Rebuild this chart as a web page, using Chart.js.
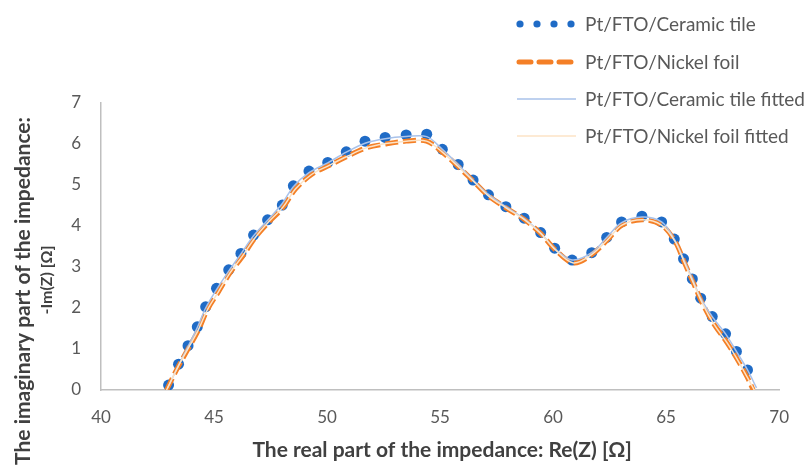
<!DOCTYPE html>
<html>
<head>
<meta charset="utf-8">
<script src="https://cdn.jsdelivr.net/npm/chart.js@4/dist/chart.umd.min.js"></script>
<style>
  html, body { margin: 0; padding: 0; background: #ffffff; }
  #wrap { position: relative; width: 806px; height: 475px; }
</style>
</head>
<body>
<div id="wrap"><canvas id="ctx" width="806" height="475"></canvas></div>
<script>
// data
const ceramicX = [42.99, 43.43, 43.85, 44.26, 44.63, 45.11, 45.65, 46.19, 46.75, 47.37, 48.02, 48.51, 49.2, 50.03, 50.85, 51.68, 52.57, 53.5, 54.41, 55.1, 55.8, 56.46, 57.14, 57.91, 58.72, 59.45, 60.07, 60.84, 61.71, 62.37, 63.03, 63.93, 64.8, 65.36, 65.77, 66.16, 66.53, 67.04, 67.63, 68.11, 68.6];
const ceramicY = [0.12, 0.63, 1.08, 1.54, 2.03, 2.48, 2.93, 3.33, 3.78, 4.15, 4.51, 4.98, 5.34, 5.55, 5.81, 6.07, 6.16, 6.22, 6.24, 5.87, 5.5, 5.12, 4.76, 4.47, 4.19, 3.84, 3.46, 3.17, 3.35, 3.72, 4.1, 4.24, 4.1, 3.68, 3.2, 2.71, 2.24, 1.79, 1.37, 0.94, 0.49];

const nickelX = [42.9, 43.4, 43.85, 44.3, 44.7, 45.2, 45.7, 46.25, 46.8, 47.4, 48.05, 48.6, 49.3, 50.1, 50.9, 51.7, 52.6, 53.5, 54.4, 55.1, 55.8, 56.5, 57.15, 57.9, 58.7, 59.45, 60.1, 60.9, 61.7, 62.4, 63.05, 63.95, 64.8, 65.4, 65.8, 66.2, 66.6, 67.1, 67.7, 68.2, 68.6, 68.85];
const nickelY = [0, 0.55, 1.0, 1.45, 1.95, 2.4, 2.85, 3.25, 3.7, 4.08, 4.45, 4.9, 5.25, 5.48, 5.7, 5.9, 6.0, 6.07, 6.07, 5.8, 5.45, 5.08, 4.73, 4.45, 4.17, 3.82, 3.42, 3.1, 3.3, 3.66, 4.02, 4.15, 4.02, 3.62, 3.12, 2.62, 2.12, 1.62, 1.15, 0.7, 0.3, 0];

const ceramicFitX = [42.95, 43.43, 43.85, 44.26, 44.63, 45.11, 45.65, 46.19, 46.75, 47.37, 48.02, 48.51, 49.2, 50.03, 50.85, 51.68, 52.57, 53.5, 54.41, 55.1, 55.8, 56.46, 57.14, 57.91, 58.72, 59.45, 60.07, 60.84, 61.71, 62.37, 63.03, 63.93, 64.8, 65.36, 65.77, 66.16, 66.53, 67.04, 67.63, 68.11, 68.6, 69.0];
const ceramicFitY = [0.05, 0.6, 1.06, 1.52, 2.0, 2.45, 2.9, 3.32, 3.76, 4.14, 4.55, 4.96, 5.3, 5.54, 5.8, 6.02, 6.13, 6.18, 6.18, 5.87, 5.5, 5.12, 4.77, 4.47, 4.18, 3.83, 3.45, 3.17, 3.35, 3.72, 4.08, 4.22, 4.1, 3.68, 3.2, 2.71, 2.24, 1.79, 1.37, 0.94, 0.49, 0.05];

const nickelFitX = [42.9, 43.4, 43.85, 44.3, 44.7, 45.2, 45.7, 46.25, 46.8, 47.4, 48.05, 48.6, 49.3, 50.1, 50.9, 51.7, 52.6, 53.5, 54.4, 55.1, 55.8, 56.5, 57.15, 57.9, 58.7, 59.45, 60.1, 60.9, 61.7, 62.4, 63.05, 63.95, 64.8, 65.4, 65.8, 66.2, 66.6, 67.1, 67.7, 68.2, 68.6, 68.9];
const nickelFitY = [0, 0.56, 1.01, 1.46, 1.95, 2.4, 2.85, 3.26, 3.7, 4.09, 4.46, 4.9, 5.25, 5.48, 5.7, 5.9, 6.01, 6.07, 6.07, 5.8, 5.45, 5.08, 4.73, 4.45, 4.17, 3.82, 3.42, 3.1, 3.3, 3.66, 4.02, 4.15, 4.02, 3.62, 3.12, 2.62, 2.12, 1.62, 1.15, 0.7, 0.3, 0];

const seriesNames = ["Pt/FTO/Ceramic tile", "Pt/FTO/Nickel foil", "Pt/FTO/Ceramic tile fitted", "Pt/FTO/Nickel foil fitted"];
const xTicks = [40, 45, 50, 55, 60, 65, 70];
const yTicks = [0, 1, 2, 3, 4, 5, 6, 7];
const xTitle = "The real part of the impedance: Re(Z) [Ω]";
const yTitle1 = "The imaginary part of the impedance:";
const yTitle2 = "-Im(Z) [Ω]";

const pts = (xs, ys) => xs.map((x, i) => ({ x: x, y: ys[i] }));

const blue = "#1f6bc6";
const orange = "#f47f26";
const fitBlue = "#a9c2ea";
const fitOrange = "#fce3c6";
const textGray = "#595959";
const titleGray = "#404040";
const fontFam = "Lato, 'Open Sans', sans-serif";

// legend + axis titles drawn by hand, like the excel layout
const chartDecor = {
    id: "chartDecor",
    afterDraw(chart) {
        const c = chart.ctx;
        const a = chart.chartArea;
        c.save();
        // x title
        c.fillStyle = titleGray;
        c.font = "bold 21px " + fontFam;
        c.textAlign = "center";
        c.textBaseline = "middle";
        c.fillText(xTitle, (a.left + a.right) / 2 + 2, 450);
        // y title, two lines
        c.save();
        c.translate(23, 291);
        c.rotate(-Math.PI / 2);
        c.fillText(yTitle1, 0, 0);
        c.restore();
        c.save();
        c.translate(47, 280);
        c.rotate(-Math.PI / 2);
        c.font = "bold 16px " + fontFam;
        c.fillText(yTitle2, 0, 0);
        c.restore();

        // legend
        const lx = 517, lw = 56, tx = 585;
        const rows = [24, 62, 99, 136];
        c.font = "19px " + fontFam;
        c.textAlign = "left";
        rows.forEach((y, i) => {
            c.fillStyle = textGray;
            c.fillText(seriesNames[i], tx, y + 1);
        });
        // dots
        c.fillStyle = blue;
        for (let k = 0; k < 4; k++) {
            c.beginPath();
            c.arc(lx + 3 + k * 17, rows[0], 3.6, 0, Math.PI * 2);
            c.fill();
        }
        // dashed
        c.strokeStyle = orange;
        c.lineWidth = 5;
        c.lineCap = "round";
        c.setLineDash([12, 8]);
        c.beginPath();
        c.moveTo(lx + 2, rows[1]);
        c.lineTo(lx + lw, rows[1]);
        c.stroke();
        c.setLineDash([]);
        c.lineCap = "butt";
        c.lineWidth = 1.5;
        c.strokeStyle = fitBlue;
        c.beginPath();
        c.moveTo(lx, rows[2]);
        c.lineTo(lx + lw + 3, rows[2]);
        c.stroke();
        c.strokeStyle = fitOrange;
        c.beginPath();
        c.moveTo(lx, rows[3]);
        c.lineTo(lx + lw + 3, rows[3]);
        c.stroke();
        c.restore();
    }
};

const config = {
    type: "scatter",
    data: {
        datasets: [
            {
                label: seriesNames[0],
                data: pts(ceramicX, ceramicY),
                showLine: false,
                pointRadius: 5.5,
                pointBackgroundColor: blue,
                pointBorderWidth: 0,
                order: 4
            },
            {
                label: seriesNames[1],
                data: pts(nickelX, nickelY),
                showLine: true,
                borderColor: orange,
                borderWidth: 5,
                borderDash: [13, 5],
                borderCapStyle: "butt",
                tension: 0.35,
                pointRadius: 0,
                order: 3
            },
            {
                label: seriesNames[2],
                data: pts(ceramicFitX, ceramicFitY),
                showLine: true,
                borderColor: fitBlue,
                borderWidth: 1.5,
                tension: 0.35,
                pointRadius: 0,
                order: 2
            },
            {
                label: seriesNames[3],
                data: pts(nickelFitX, nickelFitY),
                showLine: true,
                borderColor: fitOrange,
                borderWidth: 1.5,
                tension: 0.35,
                pointRadius: 0,
                order: 1
            }
        ]
    },
    plugins: [chartDecor],
    options: {
        responsive: false,
        animation: false,
        devicePixelRatio: 1,
        layout: { padding: { top: 103, right: 20, left: 0, bottom: 0 } },
        plugins: {
            legend: { display: false },
            tooltip: { enabled: false }
        },
        scales: {
            x: {
                type: "linear",
                min: 40,
                max: 70,
                afterFit: (s) => { s.height = 85; },
                afterBuildTicks: (s) => { s.ticks = xTicks.map(v => ({ value: v })); },
                grid: { display: true, drawOnChartArea: false, drawTicks: false },
                border: { color: "#bfbfbf", width: 1.5 },
                ticks: {
                    padding: 17,
                    color: textGray,
                    font: { family: fontFam, size: 17 }
                }
            },
            y: {
                min: 0,
                max: 7,
                afterFit: (s) => { s.width = 101; },
                afterBuildTicks: (s) => { s.ticks = yTicks.map(v => ({ value: v })); },
                grid: { display: true, drawOnChartArea: false, drawTicks: false },
                border: { color: "#bfbfbf", width: 1.5 },
                ticks: {
                    padding: 20,
                    color: textGray,
                    font: { family: fontFam, size: 17 }
                }
            }
        }
    }
};

const apmChart = new Chart(document.getElementById("ctx"), config);
</script>
</body>
</html>
